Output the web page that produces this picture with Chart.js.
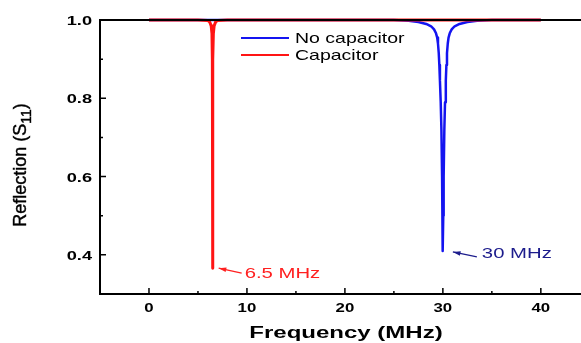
<!DOCTYPE html>
<html>
<head>
<meta charset="utf-8">
<script src="https://cdn.jsdelivr.net/npm/chart.js@4.4.1/dist/chart.umd.min.js"></script>
<style>
  html, body { margin: 0; padding: 0; background: #fff; }
  canvas { display: block; }
</style>
</head>
<body>
<canvas id="c" width="581" height="343"></canvas>
<script>
// frequency (MHz) / reflection S11
var freqNoCap = [0, 5, 10, 15, 20, 25, 26.5, 27.5, 28.3, 28.8, 29.1, 29.3, 29.42, 29.5, 29.58, 29.64, 29.7, 29.78, 29.85, 29.92, 29.96, 30,
                 30.04, 30.08, 30.15, 30.22, 30.3, 30.36, 30.42, 30.5, 30.58, 30.7, 30.9, 31.2, 31.7, 32.5, 33.5, 35, 40];
var s11NoCap  = [1.0, 1.0, 1.0, 1.0, 1.0, 1.0, 0.998, 0.995, 0.99, 0.984, 0.976, 0.966, 0.955, 0.94, 0.915, 0.885, 0.845, 0.79, 0.72, 0.6, 0.5, 0.41,
                 0.5, 0.6, 0.72, 0.79, 0.845, 0.885, 0.915, 0.94, 0.955, 0.966, 0.976, 0.984, 0.99, 0.995, 0.998, 1.0, 1.0];
var freqCap = [0, 3, 5, 6.0, 6.2, 6.35, 6.43, 6.47, 6.49, 6.5, 6.51, 6.53, 6.57, 6.65, 6.8, 7.0, 8, 15, 25, 30, 35, 40];
var s11Cap  = [1.0, 1.0, 1.0, 0.999, 0.995, 0.985, 0.965, 0.9, 0.6, 0.366, 0.6, 0.9, 0.965, 0.985, 0.995, 0.999, 1.0, 1.0, 1.0, 1.0, 1.0, 1.0];

var seriesNames = ['No capacitor', 'Capacitor'];
var xTicks = [0, 10, 20, 30, 40];
var xMinor = [5, 15, 25, 35];
var yTicks = [0.4, 0.6, 0.8, 1.0];
var yMinor = [0.5, 0.7, 0.9];
var peakNotes = ['6.5 MHz', '30 MHz'];

function pts(xs, ys) {
  var out = [];
  for (var i = 0; i < xs.length; i++) out.push({x: xs[i], y: ys[i]});
  return out;
}

// text in the reference is wide, so draw it stretched sideways
function wideText(ctx, txt, x, y, font, color, align, sx) {
  ctx.save();
  ctx.font = font;
  ctx.fillStyle = color;
  ctx.textBaseline = 'alphabetic';
  ctx.textAlign = 'left';
  var w = ctx.measureText(txt).width * sx;
  var left = align === 'center' ? x - w / 2 : (align === 'right' ? x - w : x);
  ctx.translate(left, y);
  ctx.scale(sx, 1);
  ctx.fillText(txt, 0, 0);
  ctx.restore();
}

function arrow(ctx, x1, y1, x2, y2, color) {
  ctx.save();
  ctx.strokeStyle = color;
  ctx.fillStyle = color;
  ctx.lineWidth = 1.2;
  ctx.beginPath();
  ctx.moveTo(x1, y1);
  ctx.lineTo(x2, y2);
  ctx.stroke();
  var a = Math.atan2(y2 - y1, x2 - x1);
  ctx.beginPath();
  ctx.moveTo(x2, y2);
  ctx.lineTo(x2 - 8 * Math.cos(a - 0.3), y2 - 8 * Math.sin(a - 0.3));
  ctx.lineTo(x2 - 8 * Math.cos(a + 0.3), y2 - 8 * Math.sin(a + 0.3));
  ctx.closePath();
  ctx.fill();
  ctx.restore();
}

var decor = {
  id: 'decor',
  afterDatasetsDraw: function(chart) {
    var ctx = chart.ctx;
    var xs = chart.scales.x, ys = chart.scales.y;
    var a = chart.chartArea;

    // frame
    ctx.save();
    ctx.strokeStyle = '#000';
    ctx.lineWidth = 2;
    ctx.beginPath();
    ctx.moveTo(a.right, a.top);
    ctx.lineTo(a.left, a.top);
    ctx.lineTo(a.left, a.bottom);
    ctx.lineTo(a.right, a.bottom);
    ctx.stroke();

    // inward ticks
    ctx.lineWidth = 1.5;
    ctx.beginPath();
    xTicks.forEach(function(v) { var p = xs.getPixelForValue(v); ctx.moveTo(p, a.bottom); ctx.lineTo(p, a.bottom - 6); });
    xMinor.forEach(function(v) { var p = xs.getPixelForValue(v); ctx.moveTo(p, a.bottom); ctx.lineTo(p, a.bottom - 3); });
    yTicks.forEach(function(v) { var p = ys.getPixelForValue(v); ctx.moveTo(a.left, p); ctx.lineTo(a.left + 6, p); });
    yMinor.forEach(function(v) { var p = ys.getPixelForValue(v); ctx.moveTo(a.left, p); ctx.lineTo(a.left + 3, p); });
    ctx.stroke();
    ctx.restore();

    // tick labels
    xTicks.forEach(function(v) {
      wideText(ctx, String(v), xs.getPixelForValue(v), 312, 'bold 12px "Liberation Sans", Arial, sans-serif', '#000', 'center', 1.4);
    });
    yTicks.forEach(function(v) {
      wideText(ctx, v.toFixed(1), 92, ys.getPixelForValue(v) + 5, 'bold 13px "Liberation Sans", Arial, sans-serif', '#000', 'right', 1.4);
    });

    // axis titles
    wideText(ctx, 'Frequency (MHz)', 346, 338, 'bold 16px "Liberation Sans", Arial, sans-serif', '#000', 'center', 1.5);

    ctx.save();
    ctx.translate(26, 165);
    ctx.rotate(-Math.PI / 2);
    ctx.fillStyle = '#000';
    ctx.strokeStyle = '#000';
    ctx.lineWidth = 0.4;
    ctx.textBaseline = 'alphabetic';
    var bigF = '18px "Liberation Sans", Arial, sans-serif';
    var subF = '14px "Liberation Sans", Arial, sans-serif';
    var t1 = 'Reflection (S', t2 = '11', t3 = ')';
    ctx.font = bigF;
    var w1 = ctx.measureText(t1).width, w3 = ctx.measureText(t3).width;
    ctx.font = subF;
    var w2 = ctx.measureText(t2).width;
    var x0 = -(w1 + w2 + w3) / 2;
    ctx.font = bigF;
    ctx.fillText(t1, x0, 0);
    ctx.strokeText(t1, x0, 0);
    ctx.font = subF;
    ctx.fillText(t2, x0 + w1, 5);
    ctx.strokeText(t2, x0 + w1, 5);
    ctx.font = bigF;
    ctx.fillText(t3, x0 + w1 + w2, 0);
    ctx.strokeText(t3, x0 + w1 + w2, 0);
    ctx.restore();

    // legend
    var ds = chart.data.datasets;
    var legY = [38, 55];
    for (var i = 0; i < ds.length; i++) {
      ctx.save();
      ctx.strokeStyle = ds[i].borderColor;
      ctx.lineWidth = 2;
      ctx.beginPath();
      ctx.moveTo(241, legY[i]);
      ctx.lineTo(289, legY[i]);
      ctx.stroke();
      ctx.restore();
      wideText(ctx, ds[i].label, 295, legY[i] + 5, '15px "Liberation Sans", Arial, sans-serif', '#000', 'left', 1.3);
    }

    // peak notes
    var rx = xs.getPixelForValue(6.5), ry = ys.getPixelForValue(0.366);
    arrow(ctx, rx + 29, ry + 5, rx + 6, ry, '#ff2020');
    wideText(ctx, peakNotes[0], rx + 32, ry + 10, '14px "Liberation Sans", Arial, sans-serif', '#ff2020', 'left', 1.45);
    var bx = xs.getPixelForValue(30), by = ys.getPixelForValue(0.41);
    arrow(ctx, bx + 34, by + 6, bx + 10, by + 1, '#1c1c8c');
    wideText(ctx, peakNotes[1], bx + 39, by + 7, '14px "Liberation Sans", Arial, sans-serif', '#1c1c8c', 'left', 1.45);
  }
};

new Chart(document.getElementById('c').getContext('2d'), {
  type: 'scatter',
  data: {
    datasets: [{
      label: seriesNames[0],
      data: pts(freqNoCap, s11NoCap),
      borderColor: '#1414f0',
      borderWidth: 2.5,
      borderJoinStyle: 'round',
      showLine: true,
      pointRadius: 0,
      clip: false,
      order: 1
    }, {
      label: seriesNames[1],
      data: pts(freqCap, s11Cap),
      borderColor: '#ff1414',
      borderWidth: 3,
      borderJoinStyle: 'round',
      showLine: true,
      pointRadius: 0,
      clip: false,
      order: 0
    }]
  },
  options: {
    responsive: false,
    animation: false,
    layout: { padding: { top: 20, left: 0, right: 0, bottom: 0 } },
    plugins: { legend: { display: false }, tooltip: { enabled: false } },
    scales: {
      x: {
        type: 'linear', min: -5, max: 44.1,
        grid: { display: false }, border: { display: false },
        ticks: { display: false },
        afterFit: function(s) { s.height = 49; }
      },
      y: {
        min: 0.3, max: 1.0,
        grid: { display: false }, border: { display: false },
        ticks: { display: false },
        afterFit: function(s) { s.width = 100; }
      }
    }
  },
  plugins: [decor]
});
</script>
</body>
</html>
